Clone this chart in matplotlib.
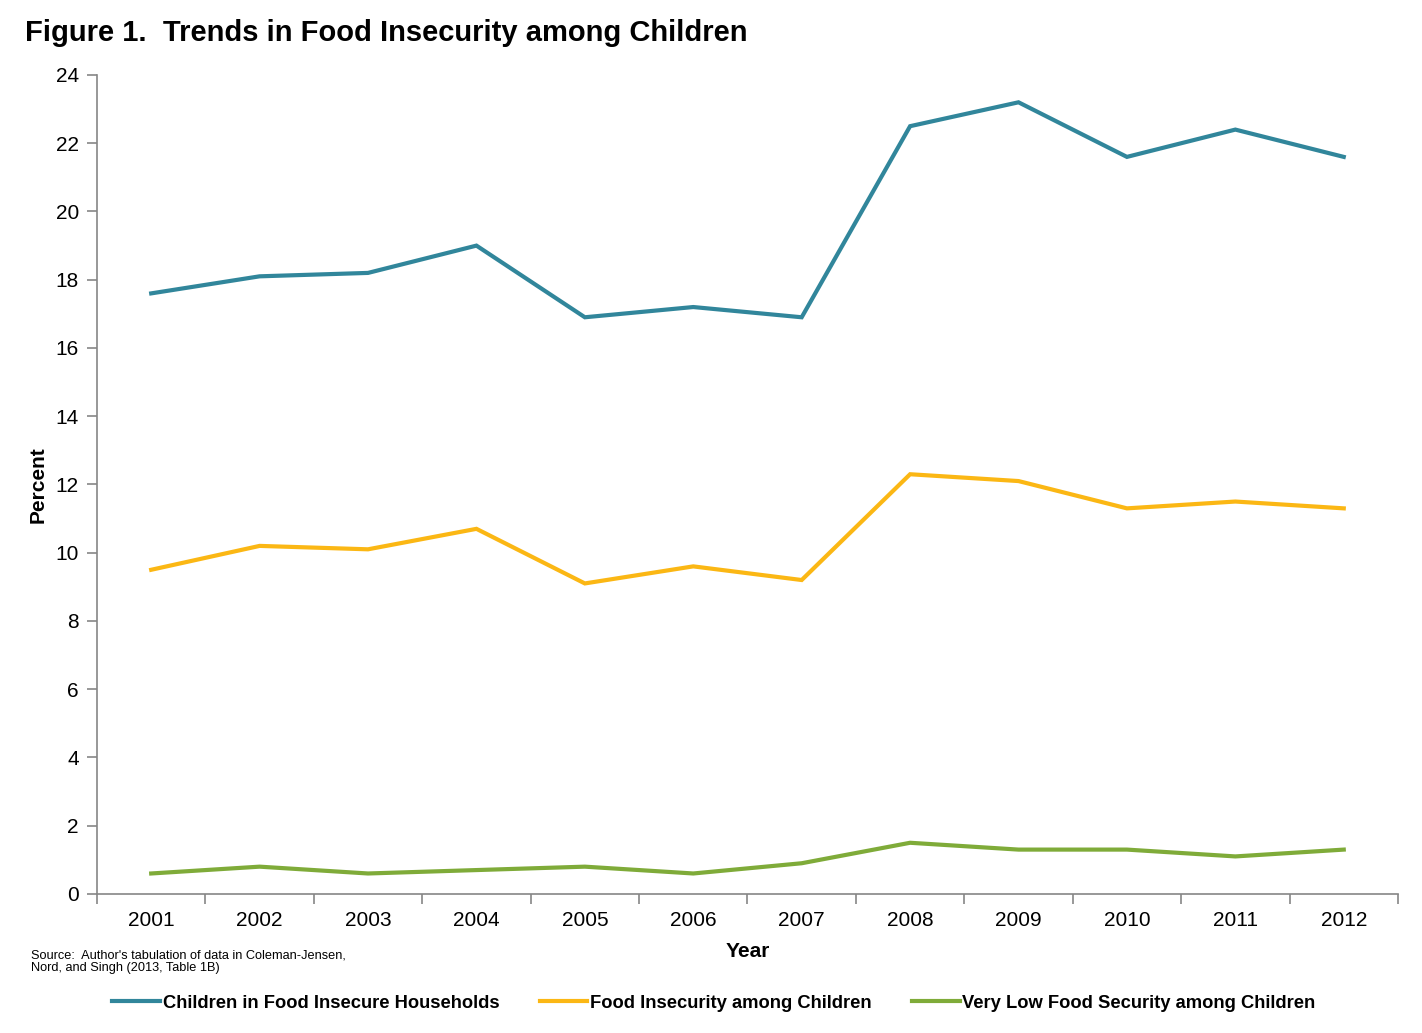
import numpy as np
import matplotlib
matplotlib.use("Agg")
import matplotlib.pyplot as plt

plt.rcParams['font.family'] = ['Liberation Sans', 'DejaVu Sans']

years = ['2001', '2002', '2003', '2004', '2005', '2006',
         '2007', '2008', '2009', '2010', '2011', '2012']
households = [17.6, 18.1, 18.2, 19.0, 16.9, 17.2, 16.9, 22.5, 23.2, 21.6, 22.4, 21.6]
insecurity = [9.5, 10.2, 10.1, 10.7, 9.1, 9.6, 9.2, 12.3, 12.1, 11.3, 11.5, 11.3]
very_low = [0.6, 0.8, 0.6, 0.7, 0.8, 0.6, 0.9, 1.5, 1.3, 1.3, 1.1, 1.3]

series_names = ['Children in Food Insecure Households',
                'Food Insecurity among Children',
                'Very Low Food Security among Children']
colors = ['#31869B', '#FBB714', '#7FAB39']

fig = plt.figure(figsize=(14.22, 10.33), dpi=100)
ax = fig.add_axes([0.0682, 0.1346, 0.9149, 0.7928])

x = np.arange(len(years))
for vals, name, c in zip([households, insecurity, very_low], series_names, colors):
    ax.plot(x, vals, color=c, lw=3, label=name, solid_joinstyle='miter')

ax.set_xlim(-0.5, len(years) - 0.5)
ax.set_ylim(0, 24)
ax.set_yticks(range(0, 25, 2))

# category axis: tick marks between years, labels centered
ax.set_xticks(np.arange(-0.5, len(years), 1.0))
ax.set_xticklabels([])
ax.set_xticks(x, minor=True)
ax.set_xticklabels(years, minor=True)
ax.tick_params(axis='x', which='major', direction='out', length=7, color='#868686', width=1.2)
ax.tick_params(axis='x', which='minor', length=0, pad=12, labelsize=15)
ax.tick_params(axis='y', direction='out', length=7, color='#868686', width=1.2, labelsize=15, pad=6)

for s in ['top', 'right']:
    ax.spines[s].set_visible(False)
for s in ['left', 'bottom']:
    ax.spines[s].set_color('#868686')
    ax.spines[s].set_linewidth(1.2)

ax.set_xlabel('Year', fontsize=15, fontweight='bold', labelpad=9)
ax.set_ylabel('Percent', fontsize=15, fontweight='bold', labelpad=6)

fig.text(0.0176, 0.968, 'Figure 1.  Trends in Food Insecurity among Children',
         fontsize=21, fontweight='bold', va='center', ha='left')
fig.text(0.022, 0.069, "Source:  Author's tabulation of data in Coleman-Jensen,\nNord, and Singh (2013, Table 1B)",
         fontsize=9.2, va='center', ha='left', linespacing=1.15)

fig.legend(loc='center', bbox_to_anchor=(0.502, 0.029), ncol=3, frameon=False,
           prop={'size': 13.2, 'weight': 'bold'}, handlelength=2.6, handletextpad=0.15,
           columnspacing=2.2)

fig.savefig('out.png', dpi=100)
